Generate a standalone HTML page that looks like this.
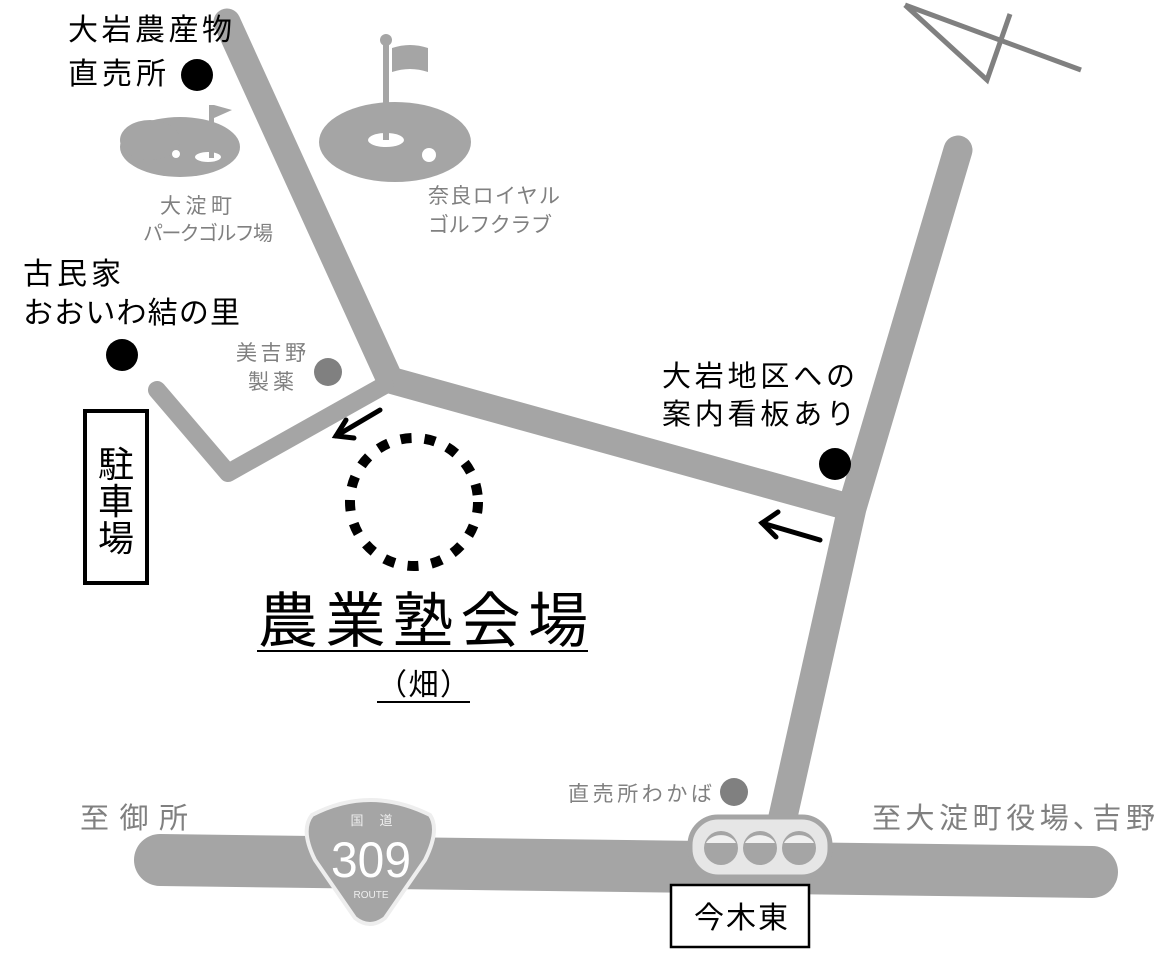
<!DOCTYPE html>
<html><head><meta charset="utf-8"><style>
body{margin:0;background:#fff}
svg{display:block}
text{font-family:"Liberation Sans","Noto Sans CJK JP",sans-serif}
</style></head><body>
<svg width="1174" height="957" viewBox="0 0 1174 957" xmlns="http://www.w3.org/2000/svg">
<rect width="1174" height="957" fill="#fff"/>
<g stroke="#a5a5a5" fill="none" stroke-linecap="round" stroke-linejoin="miter">
<polyline points="227,22 390,380 852,508" stroke-width="27"/>
<polyline points="958,150 852,508 780,830" stroke-width="29"/>
<polyline points="385,385 228,473 157,390" stroke-width="18" stroke-linejoin="round"/>
<line x1="160" y1="860" x2="1092" y2="872" stroke-width="52"/>
</g>
<g stroke="#808080" stroke-width="5" fill="none">
<polyline points="905,5 987,80 1010,14"/>
<line x1="905" y1="5" x2="1081" y2="70"/>
</g>
<g fill="#a5a5a5">
<ellipse cx="180" cy="147" rx="60" ry="30"/>
<ellipse cx="150" cy="140" rx="30" ry="20"/>
<ellipse cx="395" cy="142" rx="76" ry="40"/>
<polygon points="214,105 232,110 214,118"/>
<path d="M392,48 Q410,42 428,48 L428,72 Q410,66 392,72 Z"/>
<circle cx="386" cy="40" r="6"/>
</g>
<ellipse cx="208" cy="157" rx="13" ry="5" fill="#fff"/><rect x="209" y="105" width="5" height="53" fill="#a5a5a5"/>
<circle cx="176" cy="154" r="4" fill="#fff"/>
<ellipse cx="386" cy="140" rx="18" ry="7" fill="#fff"/><rect x="383" y="40" width="6" height="100" fill="#a5a5a5"/>
<circle cx="429" cy="155" r="7" fill="#fff"/>
<circle cx="197" cy="75" r="16" fill="#000"/>
<circle cx="122" cy="355" r="16" fill="#000"/>
<circle cx="835" cy="464" r="16" fill="#000"/>
<circle cx="328" cy="372" r="14" fill="#808080"/>
<circle cx="734" cy="792" r="14" fill="#808080"/>
<circle cx="414" cy="502" r="64" fill="none" stroke="#000" stroke-width="10" stroke-dasharray="11 13"/>
<g stroke="#000" stroke-width="5" fill="none" stroke-linecap="round">
<line x1="380" y1="410" x2="336" y2="436"/><polyline points="346,420 336,436 354,438"/>
<line x1="820" y1="540" x2="762" y2="523"/><polyline points="778,512 762,523 776,537"/>
</g>
<rect x="85" y="411" width="62" height="172" fill="none" stroke="#000" stroke-width="4"/>
<text x="116" y="477" font-size="36" text-anchor="middle" fill="#000">駐</text>
<text x="116" y="514" font-size="36" text-anchor="middle" fill="#000">車</text>
<text x="116" y="551" font-size="36" text-anchor="middle" fill="#000">場</text>
<path d="M312,815 Q370,785 430,815 Q440,830 425,860 L385,918 Q370,930 355,918 L315,860 Q300,830 312,815 Z" fill="#a5a5a5" stroke="#eee" stroke-width="4"/>
<text x="357" y="825" font-size="13" fill="#eee" text-anchor="middle">国</text>
<text x="386" y="825" font-size="13" fill="#eee" text-anchor="middle">道</text>
<text x="371" y="877" font-size="50" fill="#fff" text-anchor="middle" textLength="80" lengthAdjust="spacingAndGlyphs">309</text>
<text x="371" y="898" font-size="10" fill="#eee" text-anchor="middle">ROUTE</text>
<rect x="690" y="817" width="140" height="60" rx="28" fill="#e6e6e6" stroke="#a5a5a5" stroke-width="5"/>
<g fill="#a5a5a5"><circle cx="721" cy="848" r="17"/><circle cx="760" cy="848" r="17"/><circle cx="799" cy="848" r="17"/></g>
<g fill="#f0f0f0"><path d="M706,843 A16,12 0 0 1 736,843Z"/><path d="M745,843 A16,12 0 0 1 775,843Z"/><path d="M784,843 A16,12 0 0 1 814,843Z"/></g>
<rect x="671" y="885" width="138" height="62" fill="#fff" stroke="#000" stroke-width="2.5"/>
<text x="694" y="928" font-size="30" fill="#000" textLength="94">今木東</text>
<g fill="#000" font-size="30">
<text x="68" y="40" textLength="164">大岩農産物</text>
<text x="68" y="84" textLength="98">直売所</text>
<text x="23" y="284" textLength="98">古民家</text>
<text x="23" y="323" textLength="217">おおいわ結の里</text>
<text x="662" y="386" font-size="29" textLength="193">大岩地区への</text>
<text x="662" y="424" font-size="29" textLength="193">案内看板あり</text>
</g>
<text x="258" y="642" font-size="60" fill="#000" textLength="330">農業塾会場</text>
<line x1="257" y1="651" x2="588" y2="651" stroke="#000" stroke-width="2"/>
<text x="377" y="695" font-size="30" fill="#000" textLength="93">（畑）</text>
<line x1="377" y1="702" x2="470" y2="702" stroke="#000" stroke-width="2"/>
<g fill="#808080">
<text x="160" y="213" font-size="21" textLength="72">大淀町</text>
<text x="143" y="240" font-size="20" textLength="130">パークゴルフ場</text>
<text x="428" y="203" font-size="21" textLength="132">奈良ロイヤル</text>
<text x="428" y="232" font-size="21" textLength="124">ゴルフクラブ</text>
<text x="236" y="360" font-size="21" textLength="70">美吉野</text>
<text x="248" y="389" font-size="21" textLength="46">製薬</text>
<text x="568" y="801" font-size="21" textLength="144">直売所わかば</text>
<text x="80" y="828" font-size="29" textLength="108">至御所</text>
<text x="872" y="828" font-size="29" textLength="283">至大淀町役場､吉野</text>
</g>
</svg>
</body></html>
